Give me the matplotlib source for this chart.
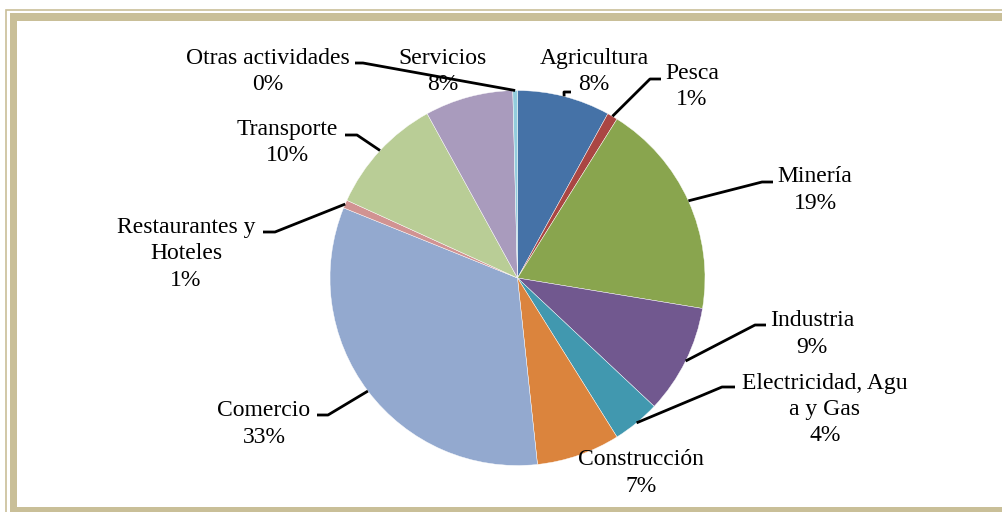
import numpy as np
from matplotlib import pyplot as plt
from matplotlib.patches import Rectangle

# datos del grafico (porcentaje por actividad)
sectores = ['Agricultura', 'Pesca', 'Minería', 'Industria', 'Electricidad, Agu\na y Gas',
            'Construcción', 'Comercio', 'Restaurantes y\nHoteles', 'Transporte',
            'Servicios', 'Otras actividades']
valores = [8.0, 0.9, 18.7, 9.4, 4.1, 7.2, 32.8, 0.7, 10.2, 7.6, 0.4]
colores = ['#4572A7', '#AA4643', '#89A54E', '#71588F', '#4198AF', '#DB843D',
           '#93A9CF', '#D19392', '#B9CD96', '#A99BBD', '#93CDDD']

# posicion de etiquetas en pixeles de la imagen (centro x, y de la primera linea)
pos_texto = [(594, 58), (692, 73), (815, 177), (812, 321), (825, 383), (641, 460),
             (264, 411), (186, 227), (287, 129), (443, 58), (268, 58)]
# fin de la linea guia: (x extremo, x codo, y) o None
guias = [(571, 564, 92), (661, 650, 79), (773, 762, 182), (766, 755, 325),
         (735, 722, 387), None, (317, 328, 415), (263, 275, 232), (345, 357, 135),
         None, (355, 363, 63)]

W, H = 1003, 512
cx, cy, r = 517.5, 278, 187.5
tan = '#C9BF98'

fig = plt.figure(figsize=(W / 100, H / 100), dpi=100)
ax = fig.add_axes([0, 0, 1, 1])

def yd(y):
    return H - y

# marco
ax.add_patch(Rectangle((6.5, -20), 1100, yd(9.5) + 20, fill=False, ec=tan, lw=1.2, zorder=1))
ax.add_patch(Rectangle((10, -20), 1100, yd(13) + 20, fc=tan, ec='none', zorder=1))
ax.add_patch(Rectangle((17.5, yd(507)), 1100, yd(20.5) - yd(507), fc='white', ec='none', zorder=2))

ax.pie(valores, colors=colores, startangle=90, counterclock=False,
       center=(cx, yd(cy)), radius=r, frame=True,
       wedgeprops=dict(linewidth=0.3, edgecolor='white', zorder=3))

# etiquetas y lineas guia
acum = np.cumsum(valores) - np.array(valores) / 2
for i, nombre in enumerate(sectores):
    texto = nombre + '\n' + f'{round(valores[i])}%'
    x0, y0 = pos_texto[i]
    for j, linea in enumerate(texto.split('\n')):
        ax.text(x0, yd(y0 + j * 26.5), linea, ha='center', va='center',
                fontsize=17, family='Liberation Serif', zorder=5)
    if guias[i] is not None:
        ang = np.deg2rad(90 - acum[i] / 100 * 360)
        ex, ey = cx + r * np.cos(ang), yd(cy) + r * np.sin(ang)
        xe, xk, yg = guias[i]
        ax.plot([ex, xk, xe], [ey, yd(yg), yd(yg)], color='black', lw=2.0,
                solid_capstyle='butt', zorder=4)

ax.set_xlim(0, W)
ax.set_ylim(0, H)
ax.set_aspect('equal')
ax.axis('off')

plt.savefig('out.png', dpi=100)
